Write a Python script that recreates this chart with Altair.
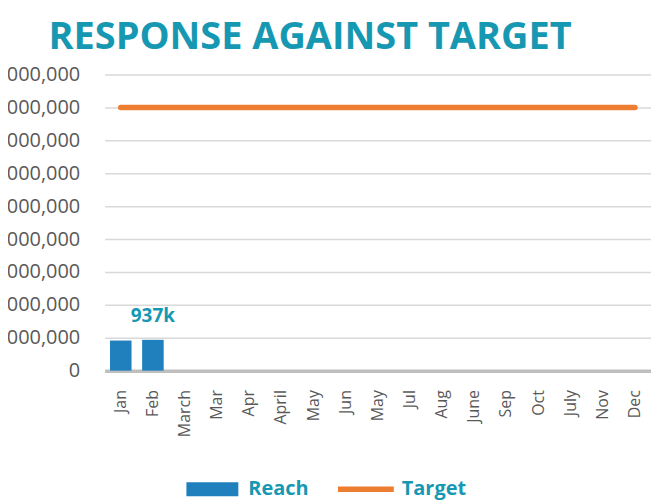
import altair as alt
import pandas as pd

categories = ["Jan", "Feb", "March", "Mar", "Apr", "April", "May", "Jun", "May",
              "Jul", "Aug", "June", "Sep", "Oct", "July", "Nov", "Dec"]
reach = [915000, 937000] + [None] * 15
target = [8000000] * 17
data_labels = ["", "937k"] + [""] * 15
series = ["Reach", "Target"]
y_ticks = [0, 1000000, 2000000, 3000000, 4000000, 5000000, 6000000, 7000000, 8000000, 9000000]

TEAL = "#1798B2"
BLUE = "#1F80BD"
ORANGE = "#ED7D31"
FONT = "Open Sans"

df = pd.DataFrame({
    "idx": list(range(len(categories))),
    "cat": categories,
    "reach": reach,
    "target": target,
    "label": data_labels,
})
legend_df = pd.DataFrame({"series": series, "v": [None, None]})

label_expr = "[" + ",".join("'" + c + "'" for c in categories) + "][datum.value]"

x_enc = alt.X(
    "idx:O",
    title=None,
    scale=alt.Scale(domain=list(range(len(categories))), paddingInner=0.33, paddingOuter=0.165),
    axis=alt.Axis(labelExpr=label_expr, labelAngle=270, labelAlign="right",
                  labelBaseline="middle", labelPadding=19, labelFontSize=16,
                  labelColor="#595959", labelFont=FONT, ticks=False,
                  domainColor="#BFBFBF", domainWidth=3.5, grid=False),
)
y_scale = alt.Scale(domain=[0, 9000000], nice=False)
y_axis = alt.Axis(values=y_ticks, format=",d", title=None, labelFontSize=20,
                  labelColor="#595959", labelFont=FONT, labelPadding=25,
                  ticks=False, domain=False, gridColor="#D9D9D9", gridWidth=1.5)

base = alt.Chart(df)

bars = base.mark_bar(color=BLUE).encode(
    x=x_enc,
    y=alt.Y("reach:Q", scale=y_scale, axis=y_axis),
)
line = base.mark_line(color=ORANGE, strokeWidth=5.5, strokeCap="round").encode(
    x=x_enc,
    y=alt.Y("target:Q", scale=y_scale, axis=y_axis),
)
text = base.transform_filter("datum.label != ''").mark_text(
    dy=-18, baseline="alphabetic", font=FONT, fontWeight="bold", fontSize=19, color=TEAL
).encode(
    x=x_enc,
    y=alt.Y("reach:Q", scale=y_scale, axis=y_axis),
    text="label:N",
)

shape_range = [
    "M-0.93,-0.25H0.93V0.25H-0.93Z",
    "M-1,-0.1H1V0.1H-1Z",
]
legend_layer = alt.Chart(legend_df).mark_point(filled=True, opacity=1).encode(
    y=alt.Y("v:Q", scale=y_scale, axis=y_axis),
    color=alt.Color("series:N", scale=alt.Scale(domain=series, range=[BLUE, ORANGE]),
                    legend=alt.Legend(title=None, orient="none", direction="horizontal",
                                      legendX=80, legendY=388, symbolSize=3136,
                                      labelOffset=8, columnPadding=29, padding=0,
                                      labelFont=FONT, labelFontWeight="bold",
                                      labelFontSize=20, labelColor=TEAL,
                                      symbolStrokeWidth=0, symbolOpacity=1)),
    shape=alt.Shape("series:N", scale=alt.Scale(domain=series, range=shape_range), legend=None),
)

chart = alt.layer(bars, line, text, legend_layer).properties(
    width=548,
    height=297,
    autosize=alt.AutoSizeParams(type="none"),
    padding={"left": 97, "top": 66, "right": 0, "bottom": 133},
    title=alt.TitleParams("RESPONSE AGAINST TARGET", font=FONT, fontSize=38, fontWeight="bold",
                          color=TEAL, anchor="middle", frame="group", dx=-68, offset=8),
).configure_view(stroke=None)

chart.save("out.html", embed_options={"renderer": "svg", "actions": False})
